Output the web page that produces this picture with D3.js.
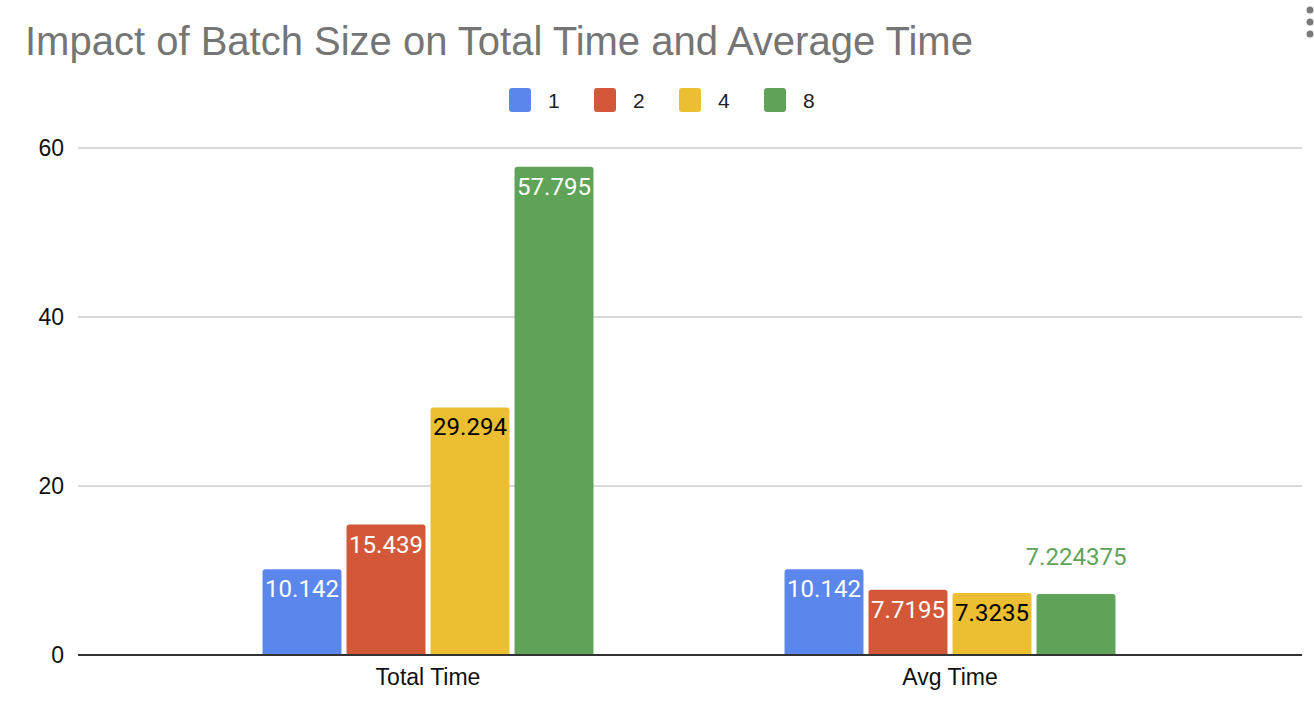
<!DOCTYPE html>
<html>
<head>
<meta charset="utf-8">
<script src="https://cdnjs.cloudflare.com/ajax/libs/d3/7.8.5/d3.min.js"></script>
<style>
  body { margin: 0; background: #fff; }
  svg { display: block; }
</style>
</head>
<body>
<script>
// chart data
const categories = ['Total Time', 'Avg Time'];
const seriesNames = ['1', '2', '4', '8'];
const series1 = [10.142, 10.142];
const series2 = [15.439, 7.7195];
const series4 = [29.294, 7.3235];
const series8 = [57.795, 7.224375];
const yTicks = [0, 20, 40, 60];

const colors = ['#5b87ec', '#d3583a', '#ecbe32', '#5fa359'];
const labelColors = ['#fff', '#fff', '#000', '#fff'];

const allSeries = [series1, series2, series4, series8];

var svgWidth = 1314, svgHeight = 702;
var svg = d3.select('body').append('svg')
    .attr('width', svgWidth)
    .attr('height', svgHeight);

// title
svg.append('text')
    .attr('x', 25)
    .attr('y', 55)
    .style('font-family', 'Liberation Sans, Arial, sans-serif')
    .style('font-size', '40px')
    .attr('fill', '#757575')
    .text('Impact of Batch Size on Total Time and Average Time');

// menu dots top right
[10, 22, 34].forEach(function (cy) {
    svg.append('circle').attr('cx', 1310).attr('cy', cy).attr('r', 3.5).attr('fill', '#7a7a7a');
});

// legend
var legend = svg.append('g');
var legendItem = legend.selectAll('g')
    .data(seriesNames)
    .enter().append('g')
    .attr('transform', function (d, i) { return 'translate(' + (509 + i * 85) + ',88)'; });
legendItem.append('rect')
    .attr('width', 22).attr('height', 24).attr('rx', 3)
    .attr('fill', function (d, i) { return colors[i]; });
legendItem.append('text')
    .attr('x', 39).attr('y', 20)
    .style('font-family', 'Liberation Sans, Arial, sans-serif')
    .style('font-size', '21px')
    .attr('fill', '#222')
    .text(function (d) { return d; });

// scales
var plotLeft = 78, plotRight = 1302;
var y = d3.scaleLinear().domain([0, 60]).range([655, 148]);

var x0 = d3.scaleBand()
    .domain(categories)
    .range([167, 1211])
    .paddingInner(0.366)
    .paddingOuter(0.183);

var x1 = d3.scaleBand()
    .domain(seriesNames)
    .range([0, x0.bandwidth()])
    .paddingInner(0.06);

// gridlines
svg.append('g').selectAll('line')
    .data(yTicks.filter(function (t) { return t !== 0; }))
    .enter().append('line')
    .attr('x1', plotLeft).attr('x2', plotRight)
    .attr('y1', function (d) { return y(d); })
    .attr('y2', function (d) { return y(d); })
    .attr('stroke', '#cccccc')
    .attr('stroke-width', 1.5);

// y axis labels
var yAxis = d3.axisLeft(y).tickValues(yTicks).tickSize(0).tickPadding(0);
var yAxisG = svg.append('g')
    .attr('transform', 'translate(64,0)')
    .call(yAxis);
yAxisG.select('.domain').remove();
yAxisG.selectAll('text')
    .style('font-family', 'Liberation Sans, Arial, sans-serif')
    .style('font-size', '23px')
    .attr('fill', '#111');

// bars
var groups = svg.append('g').selectAll('g')
    .data(categories)
    .enter().append('g')
    .attr('transform', function (d) { return 'translate(' + x0(d) + ',0)'; });

var barData = function (d, ci) {
    return seriesNames.map(function (s, si) {
        return { series: s, si: si, value: allSeries[si][ci] };
    });
};

groups.each(function (cat, ci) {
    var g = d3.select(this);
    var bars = barData(cat, ci);

    g.selectAll('path')
        .data(bars)
        .enter().append('path')
        .attr('d', function (d) {
            var bx = x1(d.series), bw = x1.bandwidth();
            var top = y(d.value), bottom = y(0), r = 3;
            return 'M' + bx + ',' + bottom +
                'V' + (top + r) +
                'Q' + bx + ',' + top + ' ' + (bx + r) + ',' + top +
                'H' + (bx + bw - r) +
                'Q' + (bx + bw) + ',' + top + ' ' + (bx + bw) + ',' + (top + r) +
                'V' + bottom + 'Z';
        })
        .attr('fill', function (d) { return colors[d.si]; });

    g.selectAll('text')
        .data(bars)
        .enter().append('text')
        .attr('x', function (d) { return x1(d.series) + x1.bandwidth() / 2; })
        .attr('y', function (d) {
            // label goes above the bar when it does not fit inside
            var fits = String(d.value).length <= 6;
            return fits ? y(d.value) + 28 : y(d.value) - 29;
        })
        .attr('text-anchor', 'middle')
        .style('font-family', 'Roboto, sans-serif')
        .style('font-size', '24px')
        .attr('fill', function (d) {
            return String(d.value).length <= 6 ? labelColors[d.si] : colors[d.si];
        })
        .text(function (d) { return d.value; });
});

// baseline
svg.append('line')
    .attr('x1', plotLeft).attr('x2', plotRight)
    .attr('y1', y(0)).attr('y2', y(0))
    .attr('stroke', '#333')
    .attr('stroke-width', 2);

// category labels
var xAxis = d3.axisBottom(x0).tickSize(0).tickPadding(0);
var xAxisG = svg.append('g')
    .attr('transform', 'translate(0,669)')
    .call(xAxis);
xAxisG.select('.domain').remove();
xAxisG.selectAll('text')
    .style('font-family', 'Liberation Sans, Arial, sans-serif')
    .style('font-size', '23px')
    .attr('fill', '#111');
</script>
</body>
</html>
